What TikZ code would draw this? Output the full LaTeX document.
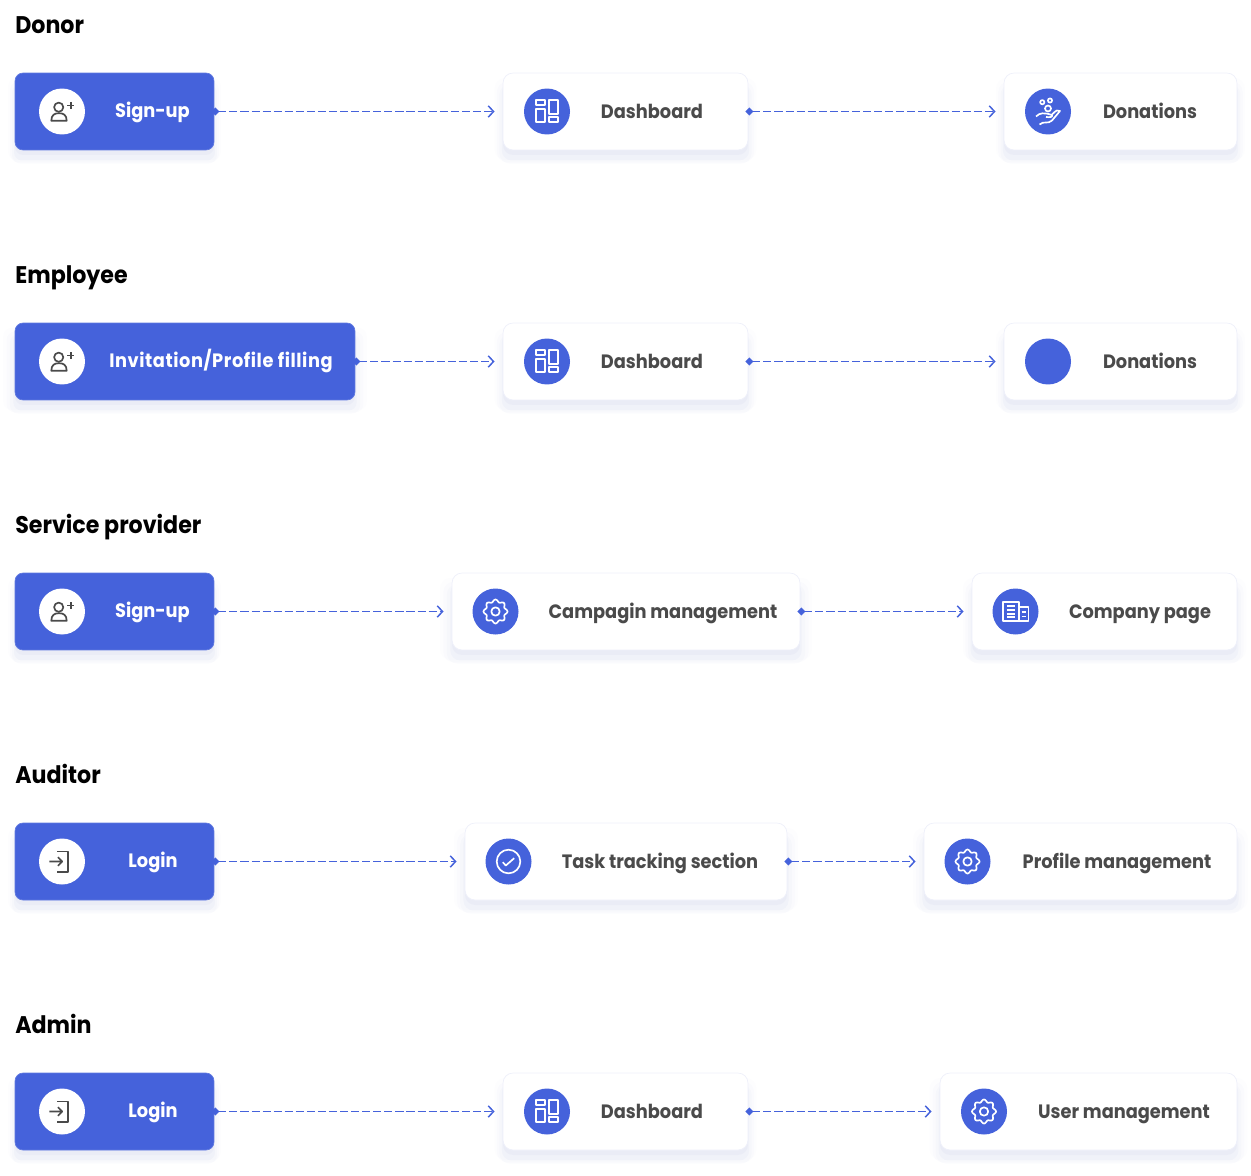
\documentclass[tikz,border=0pt]{standalone}
\usepackage{fontspec}
\setmainfont{Poppins}[FakeStretch=0.92]
\usetikzlibrary{arrows.meta, shadows}
\definecolor{mainblue}{HTML}{4562DB}
\definecolor{boxline}{HTML}{EEF0FA}
\definecolor{labelgrey}{HTML}{4A4A4A}
\definecolor{shadowblue}{HTML}{5A6AB8}
\tikzset{
    softshadow/.style={
        general shadow={fill=shadowblue, opacity=.012, shadow xshift=0cm, shadow yshift=-.14cm, shadow scale=1.07},
        general shadow={fill=shadowblue, opacity=.018, shadow xshift=0cm, shadow yshift=-.2cm, shadow scale=1.05},
        general shadow={fill=shadowblue, opacity=.025, shadow xshift=0cm, shadow yshift=-.24cm, shadow scale=1.03},
        general shadow={fill=shadowblue, opacity=.035, shadow xshift=0cm, shadow yshift=-.2cm, shadow scale=1.01},
        general shadow={fill=shadowblue, opacity=.04, shadow xshift=0cm, shadow yshift=-.1cm, shadow scale=1}
    },
    userplus/.pic={
        \draw[usedark] (-3.3,-4.3) circle (4.6);
        \draw[usedark] (-10.7,9.3) .. controls (-10.7,3.5) and (-7.5,1.7) .. (-3,1.7) .. controls (1.5,1.7) and (4.7,3.5) .. (4.7,9.3) -- cycle;
        \draw[usedark] (5.2,-6) -- (12.2,-6) (8.7,-9.5) -- (8.7,-2.5);
    },
    loginmark/.pic={
        \draw[usedark] (-5,-10) -- (5.7,-10) -- (5.7,10.7) -- (-5,10.7);
        \draw[usedark] (-12.7,0) -- (0,0) (-4,-4.3) -- (0.3,0) -- (-4,4.3);
    },
    dashmark/.pic={
        \draw[uselight] (-11.3,-11.7) rectangle (-2,-6.7);
        \draw[uselight] (-11.3,-2.3) rectangle (-2,10.7);
        \draw[uselight] (2,-11.7) rectangle (11.3,2.7);
        \draw[uselight] (2,5.7) rectangle (11.3,10.7);
    },
    coinmark/.pic={
        \draw[uselight] (-5.7,-9.3) circle (2.1) (2,-11) circle (2.1) (0,-3) circle (3);
        \draw[uselight] (-12,5) .. controls (-8,1) and (-4,1) .. (4,3.5) .. controls (5,5.5) and (2,6) .. (-2,5.5);
        \draw[uselight] (-8.5,13) .. controls (-4,9) and (0,13) .. (4,9) -- (12,-0.5) .. controls (10,-2.5) and (8,-1) .. (4,3);
    },
    gearmark/.pic={
        \draw[uselight] plot[domain=0:360, samples=97, smooth] ({(10.8+1.2*cos(8*\x))*cos(\x)},{(10.8+1.2*cos(8*\x))*sin(\x)});
        \draw[uselight] (0,0) circle (4.2);
    },
    companymark/.pic={
        \draw[uselight] (-12.7,-9.3) rectangle (3.7,9.7);
        \draw[uselight] (3.7,-4.3) rectangle (13,9.7);
        \draw[uselight] (-8.7,-5.3) -- (-0.3,-5.3) (-8.7,-1.6) -- (-0.3,-1.6) (-8.7,2.3) -- (-0.3,2.3) (-8.7,5.7) -- (-0.3,5.7);
        \draw[uselight] (6,0.7) -- (10.5,0.7) (6,5) -- (10.5,5);
    },
    checkmark/.pic={
        \draw[uselight] (0,0) circle (11.8);
        \draw[uselight] (-5.7,0.7) -- (-2.7,4) -- (5.7,-3.3);
    }
}
\begin{document}
\begin{tikzpicture}[
    x=.02cm, y=-.02cm,
    usedark/.style={draw=labelgrey, line width=.95pt, line join=round},
    uselight/.style={draw=white, line width=.95pt, line join=round},
    link/.style={draw=mainblue, line width=.85pt, dash pattern=on 4.6pt off 1.7pt,
        {Diamond[length=4.6pt,width=4.6pt,sep=1.6pt]}-{Straight Barb[length=3pt,width=6.5pt]},
        shorten <=-.11cm, shorten >=.17cm},
    head/.style={anchor=base west, inner sep=0pt, font=\fontsize{13.7}{16}\selectfont\bfseries, text=black},
    bluebox/.style={rectangle, fill=mainblue, draw=mainblue!85!white, rounded corners=.16cm,
        minimum height=1.54cm, inner sep=0pt, outer sep=0pt, softshadow},
    whitebox/.style={rectangle, fill=white, draw=boxline, rounded corners=.2cm,
        minimum height=1.54cm, inner sep=0pt, outer sep=0pt, softshadow},
    blueicon/.style={circle, fill=mainblue, minimum size=.92cm, inner sep=0pt},
    whiteicon/.style={circle, fill=white, minimum size=.92cm, inner sep=0pt},
    bluetext/.style={anchor=base, inner sep=0pt, text=white, font=\fontsize{11}{14}\selectfont\bfseries},
    greytext/.style={anchor=base, inner sep=0pt, text=labelgrey, font=\fontsize{11}{14}\selectfont\bfseries}
]
\useasboundingbox (0,0) rectangle (1251,1176);
% Donor
\node[head] (donor) at (15,33.5) {Donor};
\node[bluebox, minimum width=3.98cm] (signA) at (114.5,111.5) {};
\node[whitebox, minimum width=4.9cm] (dashA) at (625.5,111.5) {};
\node[whitebox, minimum width=4.66cm] (donA) at (1120.5,111.5) {};
\node[whiteicon] (signAi) at (62,111.5) {};
\node[blueicon] (dashAi) at (547,111.5) {};
\node[blueicon] (donAi) at (1048,111.5) {};
\pic at (signAi) {userplus};
\pic at (dashAi) {dashmark};
\pic at (donAi) {coinmark};
\node[bluetext] (signAt) at (152.5,117) {Sign-up};
\node[greytext] (dashAt) at (652,118.3) {Dashboard};
\node[greytext] (donAt) at (1150,118.3) {Donations};
\draw[link] (signA.east) -- (dashA.west);
\draw[link] (dashA.east) -- (donA.west);
% Employee
\node[head] (employee) at (15,283.5) {Employee};
\node[bluebox, minimum width=6.8cm] (signB) at (185,361.5) {};
\node[whitebox, minimum width=4.9cm] (dashB) at (625.5,361.5) {};
\node[whitebox, minimum width=4.66cm] (donB) at (1120.5,361.5) {};
\node[whiteicon] (signBi) at (62,361.5) {};
\node[blueicon] (dashBi) at (547,361.5) {};
\node[blueicon] (donBi) at (1048,361.5) {};
\pic at (signBi) {userplus};
\pic at (dashBi) {dashmark};
\node[bluetext] (signBt) at (221,367) {\addfontfeature{LetterSpace=2.9}Invitation/Profile filling};
\node[greytext] (dashBt) at (652,368.3) {Dashboard};
\node[greytext] (donBt) at (1150,368.3) {Donations};
\draw[link] (signB.east) -- (dashB.west);
\draw[link] (dashB.east) -- (donB.west);
% Service provider
\node[head] (provider) at (15,533.5) {Service provider};
\node[bluebox, minimum width=3.98cm] (signC) at (114.5,611.5) {};
\node[whitebox, minimum width=6.96cm] (campC) at (626,611.5) {};
\node[whitebox, minimum width=5.3cm] (compC) at (1104.5,611.5) {};
\node[whiteicon] (signCi) at (62,611.5) {};
\node[blueicon] (campCi) at (495.5,611.5) {};
\node[blueicon] (compCi) at (1015.5,611.5) {};
\pic at (signCi) {userplus};
\pic at (campCi) {gearmark};
\pic at (compCi) {companymark};
\node[bluetext] (signCt) at (152.5,617) {Sign-up};
\node[greytext] (campCt) at (663,618.3) {Campagin management};
\node[greytext] (compCt) at (1140,618.3) {Company page};
\draw[link] (signC.east) -- (campC.west);
\draw[link] (campC.east) -- (compC.west);
% Auditor
\node[head] (auditor) at (15,783) {Auditor};
\node[bluebox, minimum width=3.98cm] (logD) at (114.5,861.5) {};
\node[whitebox, minimum width=6.44cm] (taskD) at (626,861.5) {};
\node[whitebox, minimum width=6.26cm] (profD) at (1080.5,861.5) {};
\node[whiteicon] (logDi) at (62,861.5) {};
\node[blueicon] (taskDi) at (508.5,861.5) {};
\node[blueicon] (profDi) at (967.5,861.5) {};
\pic at (logDi) {loginmark};
\pic at (taskDi) {checkmark};
\pic at (profDi) {gearmark};
\node[bluetext] (logDt) at (153,867) {Login};
\node[greytext] (taskDt) at (660,868.3) {Task tracking section};
\node[greytext] (profDt) at (1117,868.3) {Profile management};
\draw[link] (logD.east) -- (taskD.west);
\draw[link] (taskD.east) -- (profD.west);
% Admin
\node[head] (admin) at (15,1033) {Admin};
\node[bluebox, minimum width=3.98cm] (logE) at (114.5,1111.5) {};
\node[whitebox, minimum width=4.9cm] (dashE) at (625.5,1111.5) {};
\node[whitebox, minimum width=5.94cm] (userE) at (1088.5,1111.5) {};
\node[whiteicon] (logEi) at (62,1111.5) {};
\node[blueicon] (dashEi) at (547,1111.5) {};
\node[blueicon] (userEi) at (984,1111.5) {};
\pic at (logEi) {loginmark};
\pic at (dashEi) {dashmark};
\pic at (userEi) {gearmark};
\node[bluetext] (logEt) at (153,1117) {Login};
\node[greytext] (dashEt) at (652,1118.3) {Dashboard};
\node[greytext] (userEt) at (1124,1118.3) {User management};
\draw[link] (logE.east) -- (dashE.west);
\draw[link] (dashE.east) -- (userE.west);
\end{tikzpicture}
\end{document}
